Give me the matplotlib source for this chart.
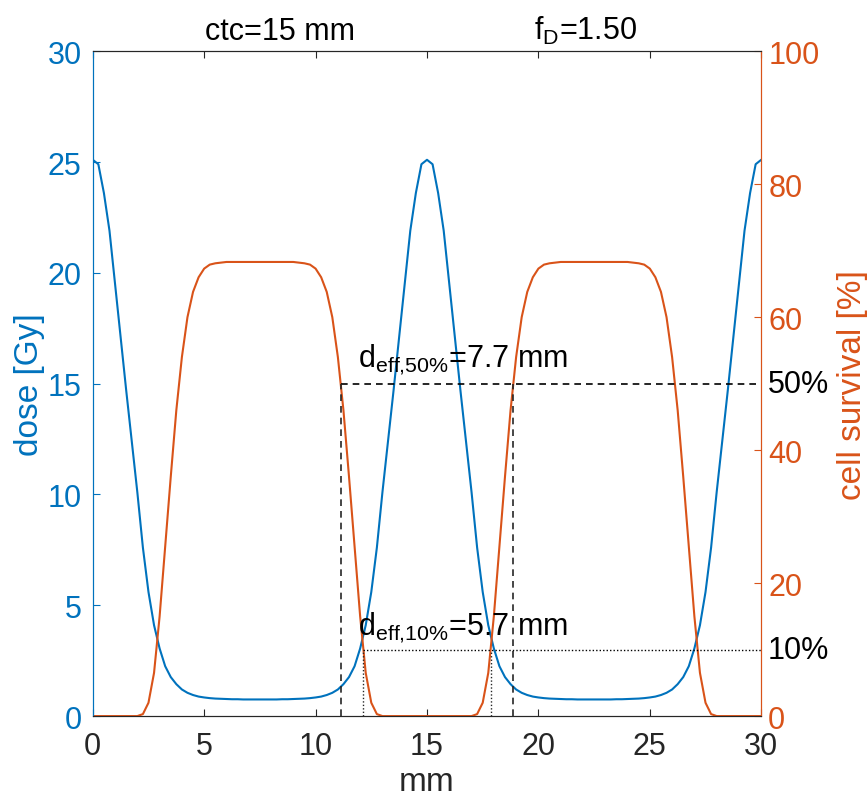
import matplotlib.pyplot as plt
import numpy as np

plt.rcParams['font.family'] = ['Liberation Sans', 'DejaVu Sans']
plt.rcParams['mathtext.fontset'] = 'custom'
plt.rcParams['mathtext.rm'] = 'Liberation Sans'

# position along the profile [mm], sampled every 0.25 mm
x_mm = np.arange(0, 30.01, 0.25)

# dose profile [Gy]
dose = [25.1, 24.9, 23.6, 21.9, 19.5, 17.1, 14.7, 12.4, 10.1, 7.6, 5.6, 4.1, 3.05, 2.25, 1.76, 1.44,
        1.2, 1.05, 0.95, 0.88, 0.84, 0.81, 0.79, 0.78, 0.77, 0.76, 0.76, 0.75, 0.75, 0.75, 0.75,
        0.75, 0.75, 0.75, 0.76, 0.76, 0.77, 0.78, 0.79, 0.81, 0.84, 0.88, 0.95, 1.05, 1.2, 1.44,
        1.76, 2.25, 3.05, 4.1, 5.6, 7.6, 10.1, 12.4, 14.7, 17.1, 19.5, 21.9, 23.6, 24.9, 25.1,
        24.9, 23.6, 21.9, 19.5, 17.1, 14.7, 12.4, 10.1, 7.6, 5.6, 4.1, 3.05, 2.25, 1.76, 1.44,
        1.2, 1.05, 0.95, 0.88, 0.84, 0.81, 0.79, 0.78, 0.77, 0.76, 0.76, 0.75, 0.75, 0.75, 0.75,
        0.75, 0.75, 0.75, 0.76, 0.76, 0.77, 0.78, 0.79, 0.81, 0.84, 0.88, 0.95, 1.05, 1.2, 1.44,
        1.76, 2.25, 3.05, 4.1, 5.6, 7.6, 10.1, 12.4, 14.7, 17.1, 19.5, 21.9, 23.6, 24.9, 25.1]

# cell survival [%]
survival = [0, 0, 0, 0, 0, 0, 0, 0, 0, 0.3, 2.0, 6.5, 15.0, 25.5, 36.0, 46.0,
            54.0, 60.0, 63.8, 66.0, 67.3, 67.9, 68.1, 68.2, 68.3, 68.3, 68.3, 68.3, 68.3, 68.3, 68.3,
            68.3, 68.3, 68.3, 68.3, 68.3, 68.3, 68.2, 68.1, 67.9, 67.3, 66.0, 63.8, 60.0, 54.0, 46.0,
            36.0, 25.5, 15.0, 6.5, 2.0, 0.3, 0, 0, 0, 0, 0, 0, 0, 0, 0,
            0, 0, 0, 0, 0, 0, 0, 0, 0.3, 2.0, 6.5, 15.0, 25.5, 36.0, 46.0,
            54.0, 60.0, 63.8, 66.0, 67.3, 67.9, 68.1, 68.2, 68.3, 68.3, 68.3, 68.3, 68.3, 68.3, 68.3,
            68.3, 68.3, 68.3, 68.3, 68.3, 68.3, 68.2, 68.1, 67.9, 67.3, 66.0, 63.8, 60.0, 54.0, 46.0,
            36.0, 25.5, 15.0, 6.5, 2.0, 0.3, 0, 0, 0, 0, 0, 0, 0, 0, 0]

ctc = 15
f_D = 1.50
d_eff_50 = 7.7
d_eff_10 = 5.7
levels = [50, 10]

blue = '#0072BD'
orange = '#D95319'
dark = '#262626'
fs = 22
fs_label = 24

fig = plt.figure(figsize=(8.67, 8.03), dpi=100)
ax = fig.add_axes([0.107, 0.107, 0.771, 0.828])
ax2 = ax.twinx()

ax.plot(x_mm, dose, color=blue, lw=1.5)
ax2.plot(x_mm, survival, color=orange, lw=1.5)

# 50% and 10% survival widths
for width, level, ls in [(d_eff_50, levels[0], (0, (4, 3))), (d_eff_10, levels[1], (0, (1, 1.5)))]:
    x1 = ctc - width / 2
    x2 = ctc + width / 2
    lw = 1.2 if level == 50 else 1.0
    ax2.plot([x1, 30], [level, level], color='k', ls=ls, lw=lw)
    ax2.plot([x1, x1], [0, level], color=dark, ls=ls, lw=lw)
    ax2.plot([x2, x2], [0, level], color=dark, ls=ls, lw=lw)
    ax2.text(30.3, level, str(level) + '%', fontsize=fs, va='center', ha='left', clip_on=False)

ax2.text(11.9, 52.6, r'$\mathregular{d_{eff{,}50\%}}$' + '=%.1f mm' % d_eff_50, fontsize=fs, va='baseline')
ax2.text(11.9, 12.3, r'$\mathregular{d_{eff{,}10\%}}$' + '=%.1f mm' % d_eff_10, fontsize=fs, va='baseline')

ax.text(8.4, 1.018, 'ctc=%d mm' % ctc, transform=ax.get_xaxis_transform(),
        fontsize=fs, ha='center', va='baseline')
ax.text(22.1, 1.018, r'$\mathregular{f_D}$' + '=%.2f' % f_D, transform=ax.get_xaxis_transform(),
        fontsize=fs, ha='center', va='baseline')

ax.set_xlim(0, 30)
ax.set_ylim(0, 30)
ax2.set_ylim(0, 100)
ax.set_xticks(range(0, 31, 5))
ax.set_yticks(range(0, 31, 5))
ax2.set_yticks(range(0, 101, 20))

ax.set_xlabel('mm', fontsize=fs_label, color=dark, labelpad=3)
ax.set_ylabel('dose [Gy]', fontsize=fs_label, color=blue, labelpad=2)
ax2.set_ylabel('cell survival [%]', fontsize=fs_label, color=orange, labelpad=13)

ax.tick_params(axis='x', direction='in', top=True, length=5, width=0.8, colors=dark,
               labelsize=fs, pad=11)
ax.tick_params(axis='y', direction='in', length=5, width=0.8, colors=blue, labelsize=fs, pad=8)
ax2.tick_params(axis='y', direction='in', length=5, width=0.8, colors=orange, labelsize=fs, pad=5)

for a in (ax, ax2):
    a.spines['top'].set_color(dark)
    a.spines['bottom'].set_color(dark)
    a.spines['left'].set_color(blue)
    a.spines['right'].set_color(orange)
    for s in a.spines.values():
        s.set_linewidth(0.8)

fig.savefig('out.png', dpi=100)
